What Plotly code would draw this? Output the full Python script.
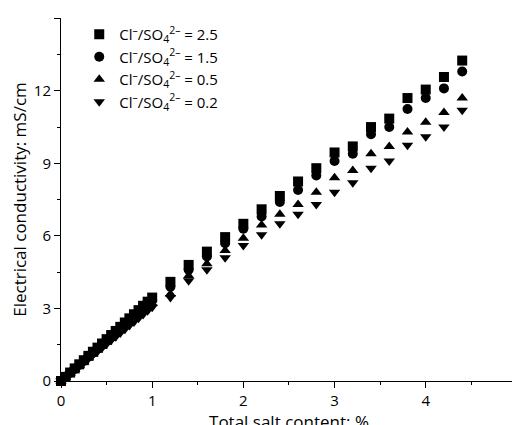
import plotly.graph_objects as go

# salt content (%): dense range 0-1 then 1.2..4.4
x_low = [0, 0.05, 0.1, 0.15, 0.2, 0.25, 0.3, 0.35, 0.4, 0.45, 0.5, 0.55, 0.6, 0.65, 0.7, 0.75, 0.8, 0.85, 0.9, 0.95, 1.0]
x_high = [1.2, 1.4, 1.6, 1.8, 2.0, 2.2, 2.4, 2.6, 2.8, 3.0, 3.2, 3.4, 3.6, 3.8, 4.0, 4.2, 4.4]

# conductivity (mS/cm)
sq_low = [0, 0.17, 0.35, 0.52, 0.69, 0.86, 1.04, 1.21, 1.38, 1.55, 1.73, 1.90, 2.07, 2.24, 2.42, 2.59, 2.76, 2.93, 3.11, 3.28, 3.45]
ci_low = [0, 0.17, 0.34, 0.50, 0.67, 0.84, 1.01, 1.17, 1.34, 1.51, 1.68, 1.84, 2.01, 2.18, 2.35, 2.51, 2.68, 2.85, 3.02, 3.18, 3.35]
up_low = [0, 0.16, 0.32, 0.48, 0.64, 0.80, 0.96, 1.12, 1.28, 1.44, 1.60, 1.76, 1.92, 2.08, 2.24, 2.40, 2.56, 2.72, 2.88, 3.04, 3.20]
dn_low = [0, 0.15, 0.31, 0.46, 0.61, 0.76, 0.92, 1.07, 1.22, 1.37, 1.53, 1.68, 1.83, 1.98, 2.14, 2.29, 2.44, 2.59, 2.75, 2.90, 3.05]

sq_high = [4.1, 4.8, 5.35, 5.95, 6.5, 7.1, 7.65, 8.25, 8.8, 9.45, 9.7, 10.5, 10.85, 11.7, 12.05, 12.57, 13.25]
ci_high = [3.9, 4.6, 5.15, 5.7, 6.3, 6.8, 7.4, 7.9, 8.5, 9.1, 9.4, 10.2, 10.5, 11.25, 11.7, 12.1, 12.8]
up_high = [3.6, 4.35, 4.85, 5.4, 5.9, 6.45, 6.9, 7.3, 7.8, 8.4, 8.7, 9.4, 9.7, 10.3, 10.7, 11.1, 11.7]
dn_high = [3.45, 4.15, 4.6, 5.1, 5.6, 6.05, 6.5, 6.9, 7.3, 7.8, 8.2, 8.8, 9.1, 9.75, 10.1, 10.5, 11.2]

ratios = ['2.5', '1.5', '0.5', '0.2']
symbols = ['square', 'circle', 'triangle-up', 'triangle-down']
series = [sq_low + sq_high, ci_low + ci_high, up_low + up_high, dn_low + dn_high]

fig = go.Figure()
for r, sym, ys in zip(ratios, symbols, series):
    fig.add_trace(go.Scatter(
        x=x_low + x_high, y=ys, mode='markers', cliponaxis=False,
        name='Cl<sup>–</sup>/SO<sub>4</sub><sup>2–</sup> = ' + r,
        marker=dict(symbol=sym, size=10, color='black')
    ))

axis = dict(showline=True, linecolor='black', linewidth=1, ticks='outside',
            tickcolor='black', ticklen=6, showgrid=False, zeroline=False,
            tickfont=dict(size=15),
            minor=dict(ticks='outside', ticklen=3, tickcolor='black'))
fig.update_xaxes(range=[0, 5.001], tick0=0, dtick=1, title_text='Total salt content: %',
                 title_standoff=4, **axis)
fig.update_yaxes(range=[0, 15.01], tick0=0, dtick=3, title_text='Electrical conductivity: mS/cm',
                 title_standoff=2, **axis)
fig.update_xaxes(minor_dtick=0.5)
fig.update_yaxes(minor_dtick=1.5)

fig.update_layout(
    width=520, height=425,
    margin=dict(l=53, r=7, t=10, b=48),
    plot_bgcolor='white', paper_bgcolor='white',
    font=dict(family='Open Sans', size=14, color='black'),
    legend=dict(x=0.04, y=1.0, xanchor='left', yanchor='top',
                bgcolor='rgba(0,0,0,0)', tracegroupgap=12, font=dict(size=15)),
)

fig.write_html("out.html")
